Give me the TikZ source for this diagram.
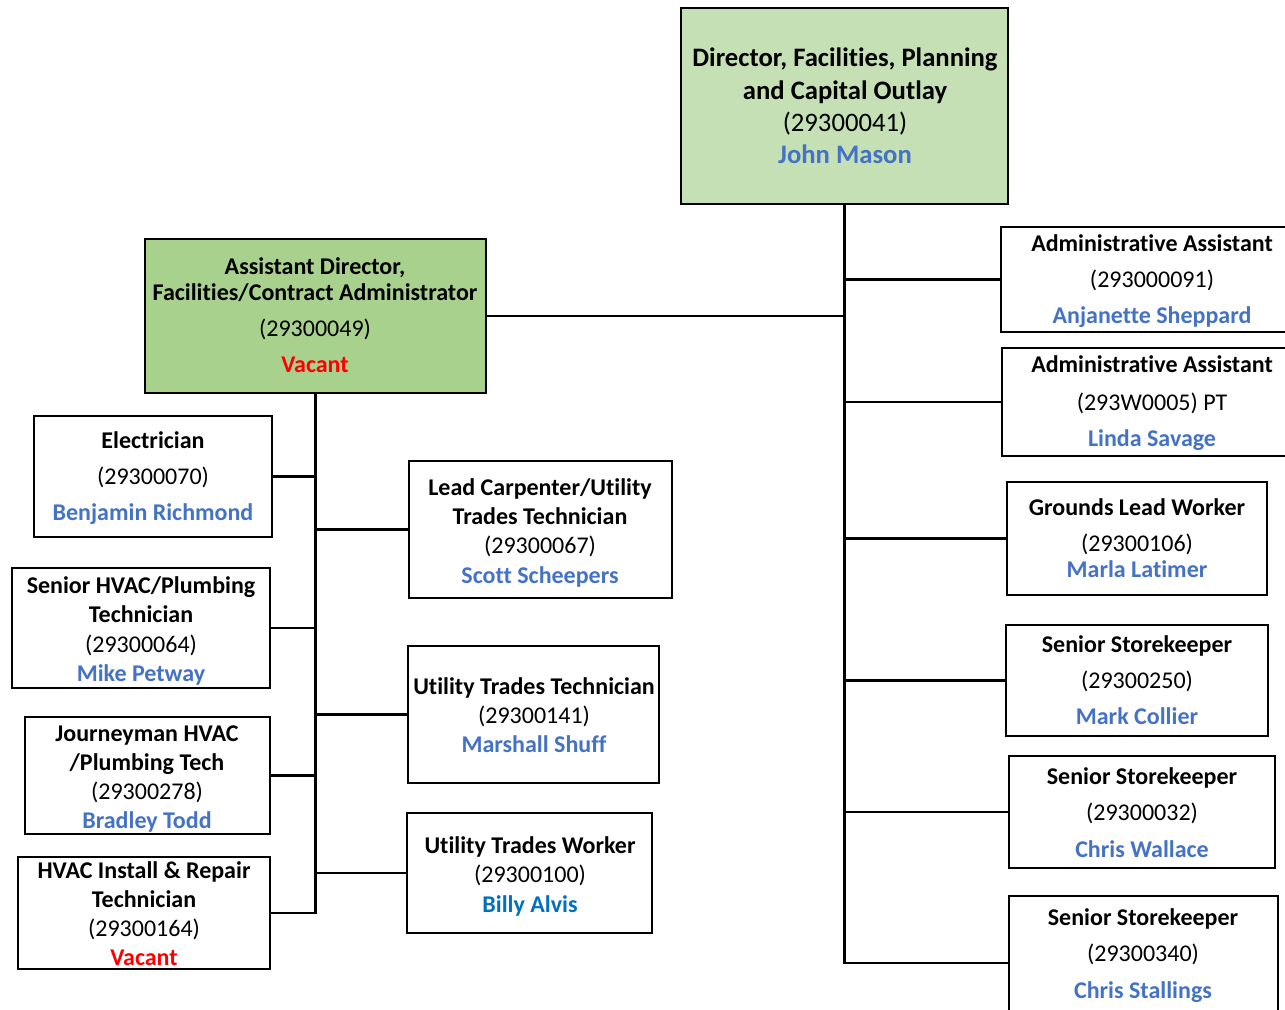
\documentclass[tikz,border=0pt]{standalone}
\usepackage{fontspec}
\setmainfont{Carlito}[Ligatures={CommonOff,ContextualOff,RequiredOff}, Contextuals=AlternateOff]
\usetikzlibrary{fit}
\definecolor{topgreen}{HTML}{C5E0B4}
\definecolor{asstgreen}{HTML}{A9D18E}
\definecolor{nameblue}{HTML}{4472C4}
\definecolor{darkblue}{HTML}{0070C0}
\definecolor{vacred}{HTML}{FF0000}
\tikzset{
  box/.style={draw=black, line width=1.6pt, inner sep=0pt, rectangle},
  conn/.style={draw=black, line width=2.2pt},
  base/.style={anchor=mid, inner sep=0pt, yshift=-4.3pt},
  ttl/.style={base, font=\fontsize{18}{20}\selectfont\bfseries},
  num/.style={base, font=\fontsize{18}{20}\selectfont},
  nm/.style={base, font=\fontsize{18}{20}\selectfont\bfseries, text=nameblue},
  vac/.style={base, font=\fontsize{18}{20}\selectfont\bfseries, text=vacred},
  big/.style={font=\fontsize{20}{22}\selectfont\bfseries},
  bignum/.style={font=\fontsize{20}{22}\selectfont},
}
\begin{document}
\begin{tikzpicture}[x=0.75pt, y=-0.75pt]
\clip (0,0) rectangle (1285,1010);
\fill[white] (0,0) rectangle (1285,1010);
% boxes
\node[box, fill=topgreen, fit={(681,8) (1008,204)}] (top) {};
\node[box, fill=asstgreen, fit={(145,239) (486,393)}] (asst) {};
\node[box, fit={(1001,227) (1305,332)}] (adm1) {};
\node[box, fit={(1002,348) (1305,456)}] (adm2) {};
\node[box, fit={(1007,482) (1267,595)}] (grd) {};
\node[box, fit={(1006,625) (1268,736)}] (ss1) {};
\node[box, fit={(1009,756) (1275,868)}] (ss2) {};
\node[box, fit={(1009,896) (1278,1030)}] (ss3) {};
\node[box, fit={(34,416) (272,537)}] (elec) {};
\node[box, fit={(409,461) (672,598)}] (lead) {};
\node[box, fit={(12,568) (270,688)}] (shvac) {};
\node[box, fit={(408,646) (659,783)}] (utt) {};
\node[box, fit={(25,717) (270,834)}] (jour) {};
\node[box, fit={(407,813) (652,933)}] (utw) {};
\node[box, fit={(18,857) (270,969)}] (hvac) {};
% connectors
\draw[conn] (top.south) -- (top.south |- ss3.west) -- (ss3.west);
\draw[conn] (asst.east) -- (asst.east -| top.south);
\foreach \b in {adm1,adm2,grd,ss1,ss2}
  \draw[conn] (\b.west) -- (\b.west -| top.south);
\draw[conn] (asst.south) -- (asst.south |- hvac.east) -- (hvac.east);
\foreach \b in {elec,shvac,jour}
  \draw[conn] (\b.east) -- (\b.east -| asst.south);
\foreach \b in {lead,utt,utw}
  \draw[conn] (\b.west) -- (\b.west -| asst.south);
% texts: top
\node[ttl, big] (top1) at (845,58) {Director, Facilities, Planning};
\node[ttl, big] (top2) at (845,91) {and Capital Outlay};
\node[num, bignum] (top3) at (845,123) {(29300041)};
\node[nm, big]  (top4) at (845,155) {John Mason};
% assistant director
\node[ttl] (asst1) at (315,266) {Assistant Director,};
\node[ttl] (asst2) at (315,292) {Facilities/Contract Administrator};
\node[num] (asst3) at (315,328) {(29300049)};
\node[vac] (asst4) at (315,364) {Vacant};
% right column
\node[ttl] (adm1a) at (1152,243) {Administrative Assistant};
\node[num] (adm1b) at (1152,279) {(293000091)};
\node[nm]  (adm1c) at (1152,315) {Anjanette Sheppard};
\node[ttl] (adm2a) at (1152,364) {Administrative Assistant};
\node[num] (adm2b) at (1152,402) {(293W0005) PT};
\node[nm]  (adm2c) at (1152,438) {Linda Savage};
\node[ttl] (grda) at (1137,507) {Grounds Lead Worker};
\node[num] (grdb) at (1137,543) {(29300106)};
\node[nm]  (grdc) at (1137,569) {Marla Latimer};
\node[ttl] (ss1a) at (1137,644) {Senior Storekeeper};
\node[num] (ss1b) at (1137,680) {(29300250)};
\node[nm]  (ss1c) at (1137,716) {Mark Collier};
\node[ttl] (ss2a) at (1142,776) {Senior Storekeeper};
\node[num] (ss2b) at (1142,812) {(29300032)};
\node[nm]  (ss2c) at (1142,849) {Chris Wallace};
\node[ttl] (ss3a) at (1143,917) {Senior Storekeeper};
\node[num] (ss3b) at (1143,953) {(29300340)};
\node[nm]  (ss3c) at (1143,990) {Chris Stallings};
% left column
\node[ttl] (eleca) at (153,440) {Electrician};
\node[num] (elecb) at (153,476) {(29300070)};
\node[nm]  (elecc) at (153,512) {Benjamin Richmond};
\node[ttl] (shvaca) at (141,585) {Senior HVAC/Plumbing};
\node[ttl] (shvacb) at (141,614) {Technician};
\node[num] (shvacc) at (141,644) {(29300064)};
\node[nm]  (shvacd) at (141,673) {Mike Petway};
\node[ttl] (joura) at (147,733) {Journeyman HVAC};
\node[ttl] (jourb) at (147,762) {/Plumbing Tech};
\node[num] (jourc) at (147,791) {(29300278)};
\node[nm]  (jourd) at (147,820) {Bradley Todd};
\node[ttl] (hvaca) at (144,870) {HVAC Install \& Repair};
\node[ttl] (hvacb) at (144,899) {Technician};
\node[num] (hvacc) at (144,928) {(29300164)};
\node[vac] (hvacd) at (144,957) {Vacant};
% middle column
\node[ttl] (leada) at (540,487) {Lead Carpenter/Utility};
\node[ttl] (leadb) at (540,516) {Trades Technician};
\node[num] (leadc) at (540,545) {(29300067)};
\node[nm]  (leadd) at (540,575) {Scott Scheepers};
\node[ttl] (utta) at (534,686) {Utility Trades Technician};
\node[num] (uttb) at (534,715) {(29300141)};
\node[nm]  (uttc) at (534,744) {Marshall Shuff};
\node[ttl] (utwa) at (530,845) {Utility Trades Worker};
\node[num] (utwb) at (530,874) {(29300100)};
\node[nm, text=darkblue] (utwc) at (530,904) {Billy Alvis};
\end{tikzpicture}
\end{document}
